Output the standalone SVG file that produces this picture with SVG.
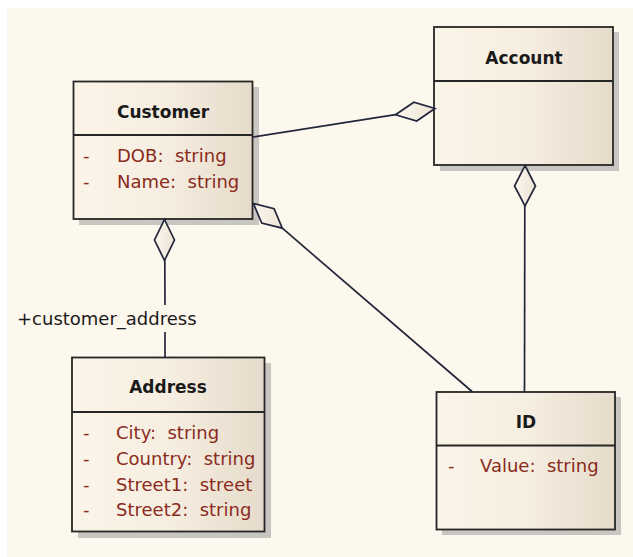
<svg xmlns="http://www.w3.org/2000/svg" width="633" height="557" viewBox="0 0 633 557">
<defs>
<linearGradient id="boxfill" x1="0" y1="0" x2="1" y2="0">
<stop offset="0" stop-color="#FBF4E8"/>
<stop offset="0.5" stop-color="#F6EEE1"/>
<stop offset="1" stop-color="#E6DBCA"/>
</linearGradient>
<linearGradient id="diafill" x1="0" y1="0" x2="1" y2="0">
<stop offset="0" stop-color="#FCF7EE"/>
<stop offset="1" stop-color="#ECE3D4"/>
</linearGradient>
</defs>
<style>
.shadow{fill:#c9c6c1}
.box{fill:url(#boxfill);stroke:#262626;stroke-width:1.8}
.div{stroke:#262626;stroke-width:1.8}
.title{font-family:"DejaVu Sans",Verdana,sans-serif;font-weight:bold;font-size:17px;fill:#1a1a1a;text-anchor:middle}
.attr{font-family:"DejaVu Sans",Verdana,sans-serif;font-size:18px;fill:#8a2b1c}
.lbl{font-family:"DejaVu Sans",Verdana,sans-serif;font-size:18px;fill:#1a1a1a}
.conn{stroke:#22263a;stroke-width:1.7;fill:none}
.dia{fill:url(#diafill);stroke:#22263a;stroke-width:1.7;stroke-linejoin:miter}
</style>
<rect x="0" y="0" width="633" height="557" fill="#ffffff"/>
<rect x="7" y="8" width="626" height="549" fill="#FDF8ED"/>

<g id="Account">
<rect class="shadow" x="440" y="32" width="179" height="139"/>
<rect class="box" x="434" y="27" width="179" height="138"/>
<line class="div" x1="434" y1="81" x2="613" y2="81"/>
<text class="title" x="524" y="64">Account</text>
</g>

<g id="Customer">
<rect class="shadow" x="79" y="87" width="180" height="138"/>
<rect class="box" x="73.5" y="81.5" width="179" height="137.5"/>
<line class="div" x1="73.5" y1="135" x2="252.5" y2="135"/>
<text class="title" x="163" y="118">Customer</text>
<text class="attr" x="83" y="162">-</text>
<text class="attr" x="117" y="162" xml:space="preserve">DOB:  string</text>
<text class="attr" x="83" y="188">-</text>
<text class="attr" x="117" y="188" xml:space="preserve">Name:  string</text>
</g>

<g id="Address">
<rect class="shadow" x="78" y="363" width="193" height="175"/>
<rect class="box" x="72" y="357.5" width="192.5" height="174"/>
<line class="div" x1="72" y1="412" x2="264.5" y2="412"/>
<text class="title" x="168" y="393">Address</text>
<text class="attr" x="83" y="439">-</text>
<text class="attr" x="116" y="439" xml:space="preserve">City:  string</text>
<text class="attr" x="83" y="465">-</text>
<text class="attr" x="116" y="465" xml:space="preserve">Country:  string</text>
<text class="attr" x="83" y="491">-</text>
<text class="attr" x="116" y="491" xml:space="preserve">Street1:  street</text>
<text class="attr" x="83" y="516">-</text>
<text class="attr" x="116" y="516" xml:space="preserve">Street2:  string</text>
</g>

<g id="ID">
<rect class="shadow" x="442" y="397" width="179" height="138"/>
<rect class="box" x="436.5" y="392" width="178.5" height="137.5"/>
<line class="div" x1="436.5" y1="445.5" x2="615" y2="445.5"/>
<text class="title" x="526" y="428">ID</text>
<text class="attr" x="448" y="472">-</text>
<text class="attr" x="480" y="472" xml:space="preserve">Value:  string</text>
</g>

<g id="connectors">
<line class="conn" x1="253" y1="137" x2="395.5" y2="114.7"/>
<polygon class="dia" points="435,108.5 413.8,102.2 395.5,114.7 416.7,121"/>
<line class="conn" x1="282.3" y1="228.2" x2="472" y2="391.5"/>
<polygon class="dia" points="253.5,203.5 274.1,208.7 282.3,228.2 261.7,223.1"/>
<line class="conn" x1="164.8" y1="260.5" x2="165" y2="305"/>
<line class="conn" x1="165" y1="332" x2="165" y2="357.5"/>
<polygon class="dia" points="164.5,219.5 174.5,240 164.5,260.5 154.5,240"/>
<line class="conn" x1="524.8" y1="206" x2="524.5" y2="392"/>
<polygon class="dia" points="525,165.5 535.5,186 525,206 514.5,186"/>
<text class="lbl" x="17" y="325">+customer_address</text>
</g>
</svg>
